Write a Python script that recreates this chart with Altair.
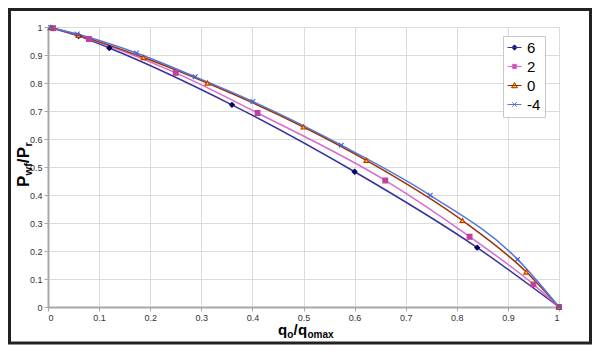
import altair as alt
import pandas as pd

# ---- data ----
series_labels = ["6", "2", "0", "-4"]

x_6 = [0.01, 0.06, 0.12, 0.36, 0.60, 0.84, 1.0]
y_6 = [0.995, 0.968, 0.925, 0.722, 0.483, 0.212, 0.0]

x_2 = [0.01, 0.08, 0.25, 0.41, 0.66, 0.825, 0.95, 1.0]
y_2 = [0.996, 0.957, 0.836, 0.693, 0.452, 0.251, 0.081, 0.0]

x_0 = [0.005, 0.06, 0.187, 0.312, 0.50, 0.623, 0.811, 0.936, 1.0]
y_0 = [0.998, 0.970, 0.891, 0.800, 0.643, 0.524, 0.309, 0.125, 0.0]

x_m4 = [0.005, 0.057, 0.173, 0.288, 0.401, 0.574, 0.748, 0.919, 1.0]
y_m4 = [0.998, 0.975, 0.907, 0.822, 0.734, 0.578, 0.399, 0.170, 0.0]

tick_values = [0, 0.1, 0.2, 0.3, 0.4, 0.5, 0.6, 0.7, 0.8, 0.9, 1.0]

# ---- styles ----
line_colors = {"6": "#333399", "2": "#DA6ACB", "0": "#993300", "-4": "#5577DD"}
marker_fill = {"6": "#000066", "2": "#C0409A", "0": "#FFD700", "-4": "transparent"}
marker_stroke = {"6": "#000066", "2": "#C0409A", "0": "#CC3300", "-4": "#4466CC"}
marker_shape = {
    "6": "diamond",
    "2": "square",
    "0": "triangle-up",
    "-4": "M-1,-1L1,1M-1,1L1,-1",
}
legend_paths = [
    "M-1,0H1M0,-0.38L0.38,0L0,0.38L-0.38,0Z",
    "M-1,0H1M-0.3,-0.3H0.3V0.3H-0.3Z",
    "M-1,0H1M0,-0.42L0.42,0.32H-0.42Z",
    "M-1,0H1M-0.32,-0.32L0.32,0.32M-0.32,0.32L0.32,-0.32",
]

rows = []
for lab, xs, ys in [("6", x_6, y_6), ("2", x_2, y_2), ("0", x_0, y_0), ("-4", x_m4, y_m4)]:
    for i, (xv, yv) in enumerate(zip(xs, ys)):
        rows.append({
            "series": lab, "order": i, "x": xv, "y": yv,
            "lc": line_colors[lab], "mf": marker_fill[lab],
            "ms": marker_stroke[lab], "shp": marker_shape[lab],
        })
df = pd.DataFrame(rows)

W, H = 511, 280
FONT = "Liberation Sans"

x_enc = alt.X("x:Q", scale=alt.Scale(domain=[0, 1], nice=False),
              axis=alt.Axis(values=tick_values, format="~g", title=None))
y_enc = alt.Y("y:Q", scale=alt.Scale(domain=[0, 1], nice=False),
              axis=alt.Axis(values=tick_values, format="~g", title=None))

base = alt.Chart(df)

lines = base.mark_line(interpolate="monotone", strokeWidth=1.5).encode(
    x=x_enc, y=y_enc,
    detail="series:N",
    order="order:Q",
    stroke=alt.Stroke("lc:N", scale=None),
)

points = base.mark_point(size=22, filled=False, strokeWidth=1.2, opacity=1).encode(
    x=x_enc, y=y_enc,
    shape=alt.Shape("shp:N", scale=None),
    fill=alt.Fill("mf:N", scale=None),
    stroke=alt.Stroke("ms:N", scale=None),
)

legend_layer = base.mark_point(size=196, filled=True, strokeWidth=1, opacity=1).encode(
    x=x_enc, y=y_enc,
    shape=alt.Shape("series:N", scale=alt.Scale(domain=series_labels, range=legend_paths),
                    legend=alt.Legend(
                        title=None, orient="none", legendX=455, legendY=9,
                        padding=4, strokeColor="#c8c8c8", fillColor="white",
                        labelFontSize=15, labelFont=FONT, labelColor="#000",
                        rowPadding=3, labelOffset=5, symbolStrokeWidth=1,
                        symbolSize=196, symbolOpacity=1)),
    fill=alt.Fill("series:N", scale=alt.Scale(domain=series_labels,
                  range=[marker_fill[s] for s in series_labels])),
    stroke=alt.Stroke("series:N", scale=alt.Scale(domain=series_labels,
                  range=[line_colors[s] for s in series_labels])),
).transform_filter("false")

# ---- axis titles with subscripts ----
blank = alt.Data(values=[{}])


def piece(text, size, xv, yv, dx, dy, angle=0):
    return alt.Chart(blank).mark_text(
        text=text, font=FONT, fontSize=size, fontWeight="bold", align="left",
        baseline="alphabetic", angle=angle, dx=dx, dy=dy, color="#000",
    ).encode(x=alt.value(xv), y=alt.value(yv))


yt_x, yt_y = -19, 160
y_title = [
    piece("P", 17, yt_x, yt_y, 0, 0, 270),
    piece("wf", 11, yt_x, yt_y, 11.6, 3, 270),
    piece("/", 17, yt_x, yt_y, 23.8, 0, 270),
    piece("P", 17, yt_x, yt_y, 28.8, 0, 270),
    piece("r", 11, yt_x, yt_y, 40.6, 3, 270),
]

xt_x, xt_y = 230, 308
x_title = [
    piece("q", 15, xt_x, xt_y, 0, 0),
    piece("o", 10, xt_x, xt_y, 9.3, 3),
    piece("/", 15, xt_x, xt_y, 15.6, 0),
    piece("q", 15, xt_x, xt_y, 20.0, 0),
    piece("omax", 10, xt_x, xt_y, 29.4, 3),
]

frame = alt.Chart(blank).mark_rect(
    fill="transparent", stroke="#222222", strokeWidth=3
).encode(x=alt.value(-38.5), x2=alt.value(542.5), y=alt.value(-17.5), y2=alt.value(316))

chart = alt.layer(
    lines, points, legend_layer, *y_title, *x_title, frame
).properties(
    width=W, height=H,
    autosize=alt.AutoSizeParams(type="none"),
    padding={"left": 40, "top": 19, "right": 33, "bottom": 40},
).configure_view(
    stroke="#c0c0c0", strokeWidth=1
).configure_axis(
    grid=True, gridColor="#dadada", gridWidth=1,
    domainColor="#a8a8a8", domainWidth=2,
    tickColor="#a8a8a8", tickSize=4,
    labelFont=FONT, labelFontSize=9, labelColor="#333333",
    labelPadding=2,
)

chart.save("out.html", embed_options={"renderer": "svg", "actions": False})
